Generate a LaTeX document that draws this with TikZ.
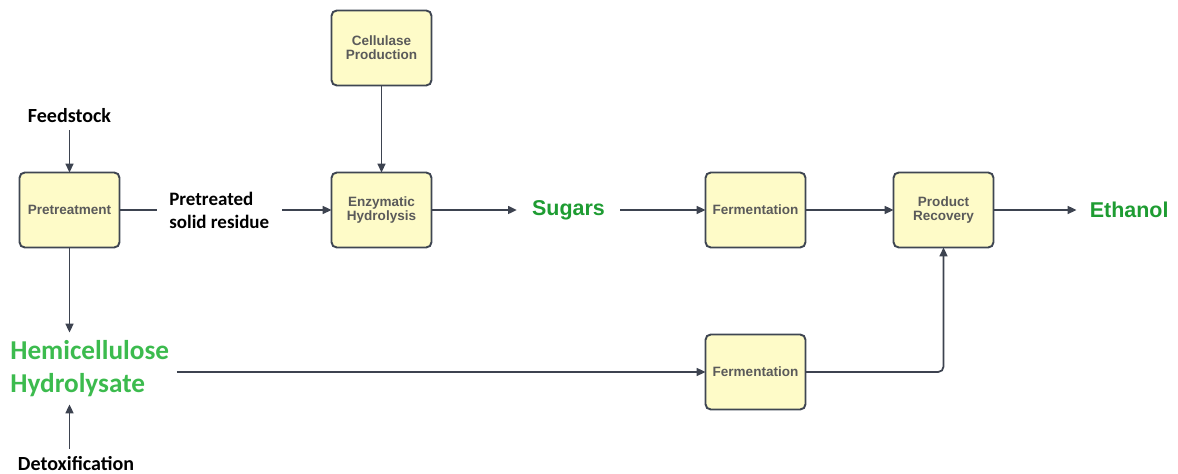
\documentclass[tikz,border=0pt]{standalone}
\usepackage{fontspec}
\setmainfont{Liberation Sans}
\newfontfamily\calibri{Carlito}
\usetikzlibrary{arrows.meta, positioning}

\definecolor{boxfill}{HTML}{FEFBC8}
\definecolor{boxline}{HTML}{3F4652}
\definecolor{boxtext}{HTML}{5A5A5A}
\definecolor{flowline}{HTML}{3D4350}
\definecolor{prodgreen}{HTML}{1E9C32}
\definecolor{hemigreen}{HTML}{3CBB4E}

\begin{document}
\begin{tikzpicture}[
  unit/.style={rectangle, rounded corners=3pt, draw=boxline, line width=1.1pt, fill=boxfill, minimum width=2cm, minimum height=1.5cm, outer sep=0pt, align=center, text=boxtext, font=\bfseries\fontsize{7.7}{8}\selectfont},
  stream/.style={font=\calibri\bfseries\fontsize{10.8}{13}\selectfont, align=left, inner xsep=0.25cm},
  feedlabel/.style={font=\calibri\bfseries\fontsize{11.4}{13}\selectfont, anchor=base},
  product/.style={font=\bfseries\fontsize{12.2}{14}\selectfont, text=prodgreen, inner xsep=0.3cm},
  arrow/.style={-{Triangle[length=5pt, width=4.5pt]}, line width=1pt, draw=flowline}
]
\useasboundingbox (-1.39,-5.28) rectangle (22.17,4.2);

\node[unit] (pre) at (0,0) {Pretreatment};
\node[unit, right=4.24cm of pre] (enz) {Enzymatic\\Hydrolysis};
\node[unit, above=1.74cm of enz] (cell) {Cellulase\\Production};
\node[unit, right=5.48cm of enz] (fermt) {Fermentation};
\node[unit, right=1.76cm of fermt] (rec) {Product\\Recovery};
\node[unit, below=1.74cm of fermt] (fermb) {Fermentation};

\node[feedlabel, inner ysep=0.14cm] (feed) at (0,1.74) {Feedstock};
\node[stream, right=0.74cm of pre] (residue) {Pretreated\\solid residue};
\path (enz) -- node[product] (sugars) {Sugars} (fermt);
\node[product, right=1.66cm of rec, inner xsep=0.26cm] (ethanol) {Ethanol};
\node[stream, font=\calibri\bfseries\fontsize{15.5}{18.7}\selectfont, text=hemigreen, inner sep=0.15cm, anchor=west] (hemi) at (-1.34,-3.17) {Hemicellulose\\Hydrolysate};
\node[feedlabel, inner ysep=0.16cm] (detox) at (0.13,-5.22) {Detoxification};

\draw[arrow] (feed) -- (pre);
\draw[line width=1pt, draw=flowline] (pre) -- (residue);
\draw[arrow] (residue) -- (enz);
\draw[arrow] (cell) -- (enz);
\draw[arrow] (enz) -- (sugars);
\draw[arrow] (sugars) -- (fermt);
\draw[arrow] (fermt) -- (rec);
\draw[arrow] (rec) -- (ethanol);
\draw[arrow] (pre) -- (pre.south |- hemi.north);
\draw[arrow] (pre.south |- detox.north) -- (pre.south |- hemi.south);
\draw[arrow] (hemi.east |- fermb.west) -- (fermb);
\draw[arrow, rounded corners=3pt] (fermb) -| (rec);

\end{tikzpicture}
\end{document}
